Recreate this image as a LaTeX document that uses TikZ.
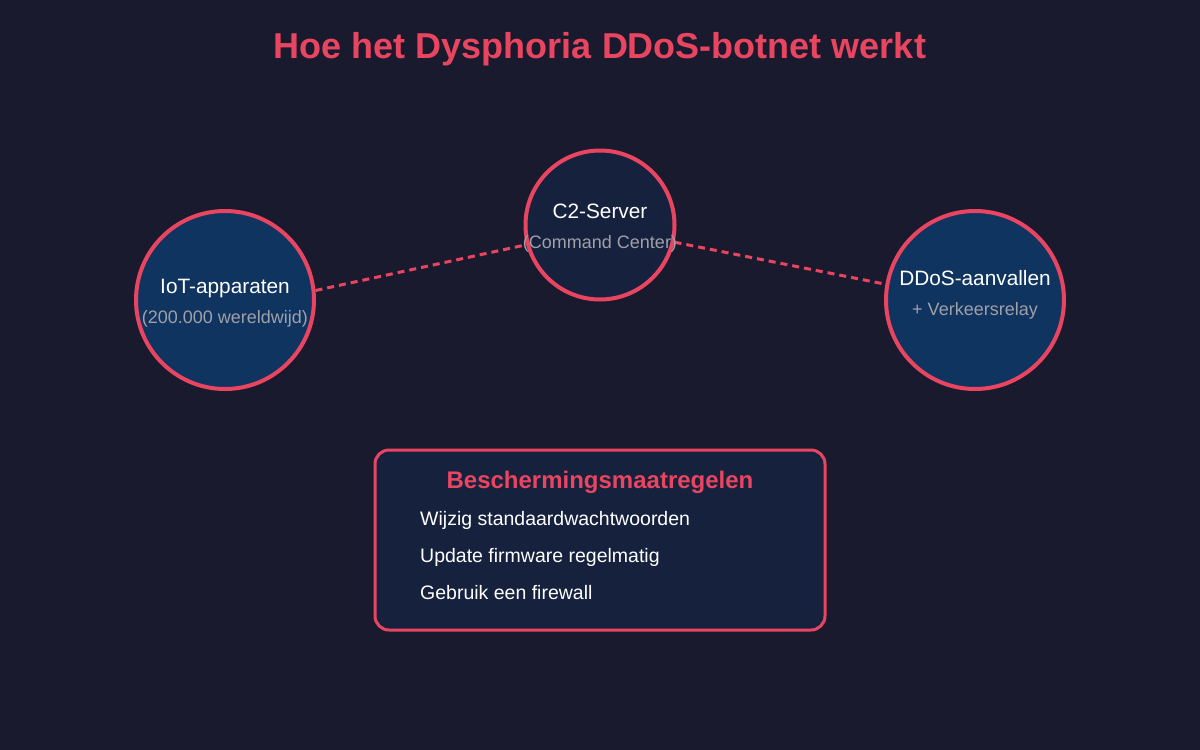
\documentclass[tikz,border=0pt]{standalone}
\usepackage{fontspec}
\setmainfont{Liberation Sans}
\definecolor{bg}{HTML}{1A1A2E}
\definecolor{accent}{HTML}{E94560}
\definecolor{darkblue}{HTML}{0F3460}
\definecolor{navy}{HTML}{16213E}
\definecolor{graytext}{HTML}{A0A0A8}
\tikzset{
  hub/.style={circle, draw=accent, line width=4pt, inner sep=0pt},
  mainlabel/.style={anchor=base, text=white, font=\fontsize{20.8}{24}\selectfont, inner sep=0pt},
  sublabel/.style={anchor=base, text=graytext, font=\fontsize{18}{22}\selectfont, inner sep=0pt},
  link/.style={draw=accent, line width=3pt, dash pattern=on 7pt off 5pt},
  itemtext/.style={anchor=base west, text=white, font=\fontsize{19.5}{23}\selectfont, inner sep=0pt}
}
\begin{document}
\begin{tikzpicture}[x=1pt,y=-1pt]
\fill[bg] (0,0) rectangle (1200,750);
\useasboundingbox (0,0) rectangle (1200,750);
\node[anchor=base, text=accent, font=\bfseries\fontsize{36}{42}\selectfont, inner sep=0pt] (title) at (600,58) {Hoe het Dysphoria DDoS-botnet werkt};
\node[hub, fill=darkblue, minimum size=178pt] (iot) at (225,300) {};
\node[hub, fill=navy, minimum size=149pt] (c2) at (600,225) {};
\node[hub, fill=darkblue, minimum size=178pt] (ddos) at (975,300) {};
\draw[link] (iot.6) -- (c2.195);
\draw[link] (c2.347) -- (ddos.170);
\node[mainlabel] (iotl) at (225,293) {IoT-apparaten};
\node[sublabel] (iots) at (225,323) {(200.000 wereldwijd)};
\node[mainlabel] (c2l) at (600,218) {C2-Server};
\node[sublabel] (c2s) at (600,248) {(Command Center)};
\node[mainlabel] (ddosl) at (975,285) {DDoS-aanvallen};
\node[sublabel] (ddoss) at (975,315) {+ Verkeersrelay};
\draw[accent, fill=navy, line width=3pt, rounded corners=14pt] (375,450) rectangle (825,630);
\node[anchor=base, text=accent, font=\bfseries\fontsize{24}{28}\selectfont, inner sep=0pt] (boxtitle) at (600,488) {Beschermingsmaatregelen};
\node[itemtext] (i1) at (420,525) {Wijzig standaardwachtwoorden};
\node[itemtext] (i2) at (420,562) {Update firmware regelmatig};
\node[itemtext] (i3) at (420,599) {Gebruik een firewall};
\end{tikzpicture}
\end{document}
